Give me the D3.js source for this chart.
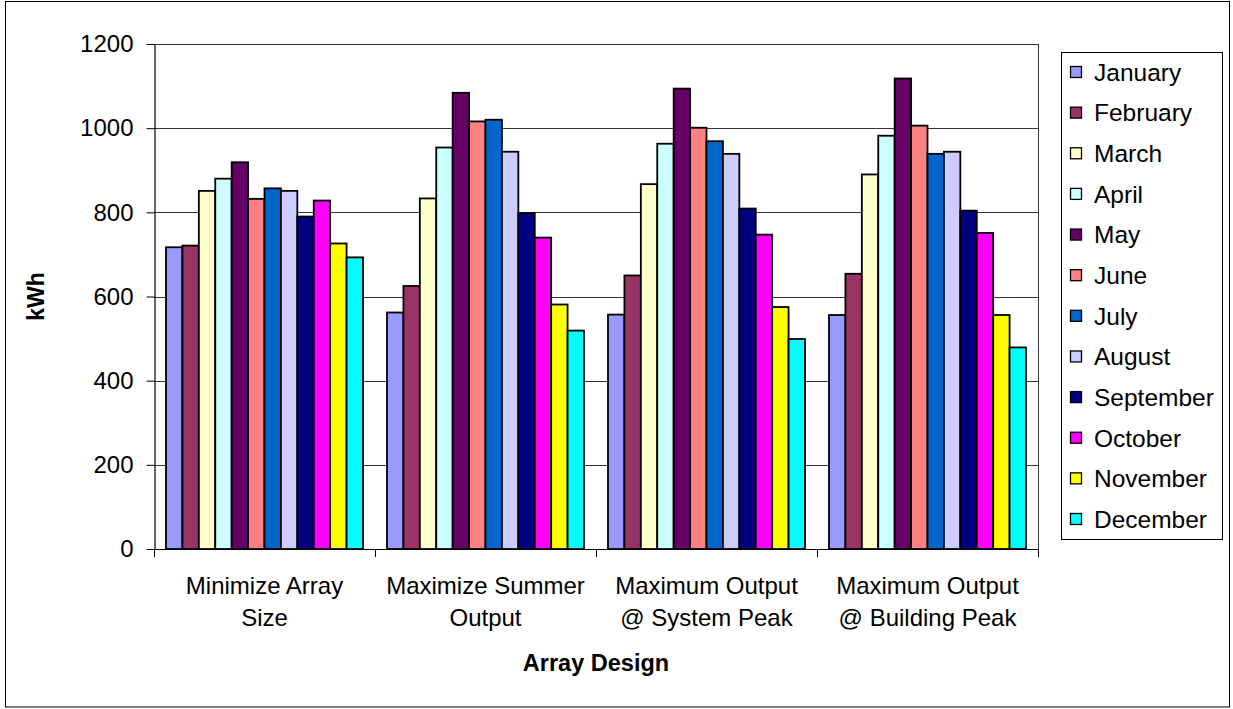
<!DOCTYPE html>
<html>
<head>
<meta charset="utf-8">
<script src="https://cdn.jsdelivr.net/npm/d3@7"></script>
<style>
  html, body { margin: 0; padding: 0; background: #fff; }
  svg { display: block; font-family: "Liberation Sans", Arial, sans-serif; }
</style>
</head>
<body>
<svg id="chart" width="1233" height="709"></svg>
<script>
// ---- data ----
const categories = [
  ["Minimize Array", "Size"],
  ["Maximize Summer", "Output"],
  ["Maximum Output", "@ System Peak"],
  ["Maximum Output", "@ Building Peak"]
];
const months = ["January","February","March","April","May","June","July","August","September","October","November","December"];
const monthColors = ["#9999FF","#993366","#FFFFCC","#CCFFFF","#660066","#FF8080","#0066CC","#CCCCFF","#000080","#FF00FF","#FFFF00","#00FFFF"];
const minimizeArraySize    = [717, 721, 851, 880, 919, 832, 857, 851, 790, 828, 726, 693];
const maximizeSummerOutput = [562, 625, 833, 954, 1084, 1016, 1020, 944, 798, 740, 581, 519];
const maxOutputSystemPeak  = [557, 650, 867, 963, 1094, 1001, 969, 939, 809, 747, 575, 499];
const maxOutputBuildingPeak= [556, 654, 890, 982, 1118, 1006, 939, 944, 804, 751, 556, 479];
const yTicks = [0, 200, 400, 600, 800, 1000, 1200];

const groupValues = [minimizeArraySize, maximizeSummerOutput, maxOutputSystemPeak, maxOutputBuildingPeak];

// ---- layout ----
const svg = d3.select("#chart");
const pL = 154, pR = 1038, pT = 44, pB = 549;

// outer frame
svg.append("rect").attr("x", 5.5).attr("y", 1.5).attr("width", 1224).attr("height", 705.5)
  .attr("fill", "#fff").attr("stroke", "#000").attr("stroke-width", 1);

const x0 = d3.scaleBand().domain(d3.range(categories.length)).range([pL, pR])
  .paddingInner(0.1086).paddingOuter(0.0543);
const x1 = d3.scaleBand().domain(months).range([0, x0.bandwidth()]);
const y = d3.scaleLinear().domain([0, 1200]).range([pB, pT]);

// gridlines
svg.append("g").selectAll("line").data(yTicks.filter(d => d > 0)).join("line")
  .attr("x1", pL).attr("x2", pR)
  .attr("y1", d => Math.round(y(d)) + 0.5).attr("y2", d => Math.round(y(d)) + 0.5)
  .attr("stroke", "#333").attr("stroke-width", 1);

// plot right border
svg.append("line").attr("x1", pR + 0.5).attr("x2", pR + 0.5).attr("y1", pT).attr("y2", pB)
  .attr("stroke", "#333");

// bars
const groups = svg.append("g").selectAll("g").data(groupValues).join("g")
  .attr("transform", (d, i) => `translate(${x0(i)},0)`);
groups.selectAll("rect").data(d => d.map((v, j) => ({v, j}))).join("rect")
  .attr("x", d => x1(months[d.j]))
  .attr("y", d => y(d.v))
  .attr("width", x1.bandwidth())
  .attr("height", d => pB - y(d.v))
  .attr("fill", d => monthColors[d.j])
  .attr("stroke", "#000").attr("stroke-width", 1.8);

// y axis
const yAxis = d3.axisLeft(y).tickValues(yTicks).tickFormat(d3.format("d"))
  .tickSize(8).tickPadding(13).tickSizeOuter(0);
const gy = svg.append("g").attr("transform", `translate(${pL + 0.5},0)`).call(yAxis);
gy.select(".domain").attr("stroke", "#000").attr("stroke-width", 1.2);
gy.selectAll(".tick line").attr("stroke", "#000");
gy.selectAll(".tick text").attr("font-size", 24).attr("fill", "#000")
  .attr("font-family", "Liberation Sans, Arial, sans-serif");

// x axis line and boundary ticks
svg.append("line").attr("x1", pL).attr("x2", pR).attr("y1", pB + 0.5).attr("y2", pB + 0.5)
  .attr("stroke", "#000").attr("stroke-width", 1.2);
const bounds = d3.range(categories.length + 1).map(i => pL + i * (pR - pL) / categories.length);
svg.append("g").selectAll("line").data(bounds).join("line")
  .attr("x1", d => Math.round(d) + 0.5).attr("x2", d => Math.round(d) + 0.5)
  .attr("y1", pB).attr("y2", pB + 8).attr("stroke", "#000");

// category labels
const catG = svg.append("g").selectAll("text").data(categories).join("text")
  .attr("text-anchor", "middle").attr("font-size", 24).attr("fill", "#000")
  .attr("x", (d, i) => x0(i) + x0.bandwidth() / 2);
catG.selectAll("tspan").data(d => d).join("tspan")
  .attr("x", function() { return d3.select(this.parentNode).attr("x"); })
  .attr("y", (d, k) => 594 + k * 32)
  .text(d => d);

// axis titles
svg.append("text").attr("x", (pL + pR) / 2).attr("y", 671).attr("text-anchor", "middle")
  .attr("font-size", 23.5).attr("font-weight", "bold").text("Array Design");
svg.append("text").attr("transform", `translate(44,${(pT + pB) / 2}) rotate(-90)`)
  .attr("text-anchor", "middle").attr("font-size", 23).attr("font-weight", "bold").text("kWh");

// legend
const lg = svg.append("g");
lg.append("rect").attr("x", 1061.5).attr("y", 52.5).attr("width", 161).attr("height", 487)
  .attr("fill", "#fff").attr("stroke", "#000").attr("stroke-width", 1);
const rowY = d3.scalePoint().domain(months).range([72, 519]);
const items = lg.selectAll("g").data(months).join("g")
  .attr("transform", d => `translate(0,${rowY(d)})`);
items.append("rect").attr("x", 1070.5).attr("y", -5.5).attr("width", 11).attr("height", 11)
  .attr("fill", (d, i) => monthColors[i]).attr("stroke", "#000").attr("stroke-width", 1.3);
items.append("text").attr("x", 1094).attr("y", 0).attr("dy", "0.36em")
  .attr("font-size", 24.5).attr("fill", "#000").text(d => d);
</script>
</body>
</html>
